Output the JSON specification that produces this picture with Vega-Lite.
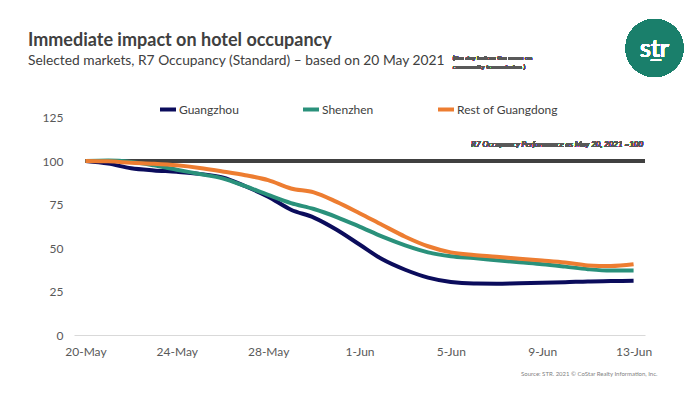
{
  "$schema": "https://vega.github.io/schema/vega-lite/v6.json",
  "width": 571,
  "height": 217.5,
  "autosize": {"type": "none"},
  "padding": {"left": 74, "top": 117.5, "right": 55, "bottom": 59},
  "background": "white",
  "config": {"view": {"stroke": null}, "font": "Lato"},
  "title": {
    "text": "Immediate impact on hotel occupancy",
    "subtitle": "Selected markets, R7 Occupancy (Standard) – based on 20 May 2021",
    "anchor": "start",
    "frame": "group",
    "dx": -46,
    "offset": -49,
    "font": "Lato",
    "fontSize": 18,
    "fontWeight": "bold",
    "color": "#404040",
    "subtitleFont": "Lato",
    "subtitleFontSize": 13.8,
    "subtitleColor": "#404040",
    "subtitlePadding": 4
  },
  "data": {
    "values": [
      {"date": "2021-05-20T00:00:00", "market": "Guangzhou", "value": 100},
      {"date": "2021-05-21T00:00:00", "market": "Guangzhou", "value": 98.5},
      {"date": "2021-05-22T00:00:00", "market": "Guangzhou", "value": 95.8},
      {"date": "2021-05-23T00:00:00", "market": "Guangzhou", "value": 94.6},
      {"date": "2021-05-24T00:00:00", "market": "Guangzhou", "value": 93.8},
      {"date": "2021-05-25T00:00:00", "market": "Guangzhou", "value": 92.6},
      {"date": "2021-05-26T00:00:00", "market": "Guangzhou", "value": 90.5},
      {"date": "2021-05-27T00:00:00", "market": "Guangzhou", "value": 85.5},
      {"date": "2021-05-28T00:00:00", "market": "Guangzhou", "value": 79.5},
      {"date": "2021-05-29T00:00:00", "market": "Guangzhou", "value": 72},
      {"date": "2021-05-30T00:00:00", "market": "Guangzhou", "value": 67.5},
      {"date": "2021-05-31T00:00:00", "market": "Guangzhou", "value": 60.5},
      {"date": "2021-06-01T00:00:00", "market": "Guangzhou", "value": 52},
      {"date": "2021-06-02T00:00:00", "market": "Guangzhou", "value": 43.5},
      {"date": "2021-06-03T00:00:00", "market": "Guangzhou", "value": 37.5},
      {"date": "2021-06-04T00:00:00", "market": "Guangzhou", "value": 33},
      {"date": "2021-06-05T00:00:00", "market": "Guangzhou", "value": 30.5},
      {"date": "2021-06-06T00:00:00", "market": "Guangzhou", "value": 29.6},
      {"date": "2021-06-07T00:00:00", "market": "Guangzhou", "value": 29.5},
      {"date": "2021-06-08T00:00:00", "market": "Guangzhou", "value": 29.8},
      {"date": "2021-06-09T00:00:00", "market": "Guangzhou", "value": 30},
      {"date": "2021-06-10T00:00:00", "market": "Guangzhou", "value": 30.3},
      {"date": "2021-06-11T00:00:00", "market": "Guangzhou", "value": 30.8},
      {"date": "2021-06-12T00:00:00", "market": "Guangzhou", "value": 31},
      {"date": "2021-06-13T00:00:00", "market": "Guangzhou", "value": 31.2},
      {"date": "2021-05-20T00:00:00", "market": "Shenzhen", "value": 100},
      {"date": "2021-05-21T00:00:00", "market": "Shenzhen", "value": 100.3},
      {"date": "2021-05-22T00:00:00", "market": "Shenzhen", "value": 99.5},
      {"date": "2021-05-23T00:00:00", "market": "Shenzhen", "value": 97.5},
      {"date": "2021-05-24T00:00:00", "market": "Shenzhen", "value": 95},
      {"date": "2021-05-25T00:00:00", "market": "Shenzhen", "value": 92.5},
      {"date": "2021-05-26T00:00:00", "market": "Shenzhen", "value": 90},
      {"date": "2021-05-27T00:00:00", "market": "Shenzhen", "value": 85.5},
      {"date": "2021-05-28T00:00:00", "market": "Shenzhen", "value": 80.5},
      {"date": "2021-05-29T00:00:00", "market": "Shenzhen", "value": 75.8},
      {"date": "2021-05-30T00:00:00", "market": "Shenzhen", "value": 72.4},
      {"date": "2021-05-31T00:00:00", "market": "Shenzhen", "value": 67.8},
      {"date": "2021-06-01T00:00:00", "market": "Shenzhen", "value": 62.3},
      {"date": "2021-06-02T00:00:00", "market": "Shenzhen", "value": 56.5},
      {"date": "2021-06-03T00:00:00", "market": "Shenzhen", "value": 51.5},
      {"date": "2021-06-04T00:00:00", "market": "Shenzhen", "value": 47.5},
      {"date": "2021-06-05T00:00:00", "market": "Shenzhen", "value": 45.3},
      {"date": "2021-06-06T00:00:00", "market": "Shenzhen", "value": 44.2},
      {"date": "2021-06-07T00:00:00", "market": "Shenzhen", "value": 43},
      {"date": "2021-06-08T00:00:00", "market": "Shenzhen", "value": 41.8},
      {"date": "2021-06-09T00:00:00", "market": "Shenzhen", "value": 40.7},
      {"date": "2021-06-10T00:00:00", "market": "Shenzhen", "value": 39.3},
      {"date": "2021-06-11T00:00:00", "market": "Shenzhen", "value": 37.8},
      {"date": "2021-06-12T00:00:00", "market": "Shenzhen", "value": 37},
      {"date": "2021-06-13T00:00:00", "market": "Shenzhen", "value": 37},
      {"date": "2021-05-20T00:00:00", "market": "Rest of Guangdong", "value": 100},
      {"date": "2021-05-21T00:00:00", "market": "Rest of Guangdong", "value": 99.8},
      {"date": "2021-05-22T00:00:00", "market": "Rest of Guangdong", "value": 99},
      {"date": "2021-05-23T00:00:00", "market": "Rest of Guangdong", "value": 98.4},
      {"date": "2021-05-24T00:00:00", "market": "Rest of Guangdong", "value": 97.5},
      {"date": "2021-05-25T00:00:00", "market": "Rest of Guangdong", "value": 96},
      {"date": "2021-05-26T00:00:00", "market": "Rest of Guangdong", "value": 94},
      {"date": "2021-05-27T00:00:00", "market": "Rest of Guangdong", "value": 91.8},
      {"date": "2021-05-28T00:00:00", "market": "Rest of Guangdong", "value": 89},
      {"date": "2021-05-29T00:00:00", "market": "Rest of Guangdong", "value": 84.2},
      {"date": "2021-05-30T00:00:00", "market": "Rest of Guangdong", "value": 82},
      {"date": "2021-05-31T00:00:00", "market": "Rest of Guangdong", "value": 76.5},
      {"date": "2021-06-01T00:00:00", "market": "Rest of Guangdong", "value": 70},
      {"date": "2021-06-02T00:00:00", "market": "Rest of Guangdong", "value": 63.2},
      {"date": "2021-06-03T00:00:00", "market": "Rest of Guangdong", "value": 56.5},
      {"date": "2021-06-04T00:00:00", "market": "Rest of Guangdong", "value": 51},
      {"date": "2021-06-05T00:00:00", "market": "Rest of Guangdong", "value": 47.5},
      {"date": "2021-06-06T00:00:00", "market": "Rest of Guangdong", "value": 46},
      {"date": "2021-06-07T00:00:00", "market": "Rest of Guangdong", "value": 45},
      {"date": "2021-06-08T00:00:00", "market": "Rest of Guangdong", "value": 43.8},
      {"date": "2021-06-09T00:00:00", "market": "Rest of Guangdong", "value": 42.8},
      {"date": "2021-06-10T00:00:00", "market": "Rest of Guangdong", "value": 41.7},
      {"date": "2021-06-11T00:00:00", "market": "Rest of Guangdong", "value": 40},
      {"date": "2021-06-12T00:00:00", "market": "Rest of Guangdong", "value": 39.6},
      {"date": "2021-06-13T00:00:00", "market": "Rest of Guangdong", "value": 40.6}
    ]
  },
  "layer": [
    {
      "mark": {"type": "rule", "color": "#404040", "strokeWidth": 2.5},
      "encoding": {
        "x": {"datum": {"year": 2021, "month": 5, "date": 20}, "type": "temporal", "scale": {"domain": [{"year": 2021, "month": 5, "date": 19, "hours": 12}, {"year": 2021, "month": 6, "date": 13, "hours": 12}], "nice": false}},
        "x2": {"datum": {"year": 2021, "month": 6, "date": 13, "hours": 12}},
        "y": {"datum": 100, "type": "quantitative", "scale": {"domain": [0, 125], "nice": false}}
      }
    },
    {
      "mark": {"type": "line", "strokeWidth": 4, "interpolate": "monotone", "clip": false},
      "encoding": {
        "x": {
          "field": "date",
          "type": "temporal",
          "scale": {"domain": [{"year": 2021, "month": 5, "date": 19, "hours": 12}, {"year": 2021, "month": 6, "date": 13, "hours": 12}], "nice": false},
          "axis": {
            "values": [
              {"year": 2021, "month": 5, "date": 20},
              {"year": 2021, "month": 5, "date": 24},
              {"year": 2021, "month": 5, "date": 28},
              {"year": 2021, "month": 6, "date": 1},
              {"year": 2021, "month": 6, "date": 5},
              {"year": 2021, "month": 6, "date": 9},
              {"year": 2021, "month": 6, "date": 13}
            ],
            "format": "%-d-%b",
            "labelFont": "Lato",
            "labelFontSize": 12,
            "labelColor": "#595959",
            "labelPadding": 11,
            "labelFlush": false,
            "ticks": false,
            "grid": false,
            "domainColor": "#d9d9d9",
            "domainWidth": 1,
            "title": "Source: STR. 2021 © CoStar Realty Information, Inc.",
            "titleFont": "Lato",
            "titleFontSize": 6,
            "titleFontWeight": "normal",
            "titleColor": "#7f7f7f",
            "titleAlign": "right",
            "titleAnchor": "end",
            "titleX": 583,
            "titleY": 38,
            "titleBaseline": "middle"
          }
        },
        "y": {
          "field": "value",
          "type": "quantitative",
          "scale": {"domain": [0, 125], "nice": false},
          "axis": {
            "values": [0, 25, 50, 75, 100, 125],
            "title": null,
            "grid": false,
            "domain": false,
            "ticks": false,
            "labelPadding": 11,
            "labelFont": "Lato",
            "labelFontSize": 12,
            "labelColor": "#595959"
          }
        },
        "color": {
          "field": "market",
          "type": "nominal",
          "sort": ["Guangzhou", "Shenzhen", "Rest of Guangdong"],
          "scale": {"domain": ["Guangzhou", "Shenzhen", "Rest of Guangdong"], "range": ["#0b0c5c", "#2a917b", "#ed7d31"]},
          "legend": {
            "orient": "none",
            "legendX": 84,
            "legendY": -18,
            "direction": "horizontal",
            "title": null,
            "symbolType": "stroke",
            "symbolStrokeWidth": 4,
            "symbolSize": 256,
            "labelFont": "Lato",
            "labelFontSize": 12,
            "labelColor": "#404040",
            "labelOffset": 1,
            "columnPadding": 56
          }
        }
      }
    },
    {
      "mark": {"type": "text", "align": "right", "baseline": "middle", "fontStyle": "italic", "fontSize": 8, "font": "Lato", "color": "#595959", "clip": false},
      "encoding": {
        "x": {"datum": {"year": 2021, "month": 6, "date": 13, "hours": 10}, "type": "temporal", "scale": {"domain": [{"year": 2021, "month": 5, "date": 19, "hours": 12}, {"year": 2021, "month": 6, "date": 13, "hours": 12}], "nice": false}},
        "y": {"datum": 109, "type": "quantitative", "scale": {"domain": [0, 125], "nice": false}},
        "text": {"value": "R7 Occupancy Performance as May 20, 2021 =100"}
      }
    },
    {
      "mark": {"type": "text", "align": "left", "baseline": "middle", "fontSize": 6.5, "font": "Lato", "color": "#595959", "lineHeight": 9, "clip": false},
      "encoding": {
        "x": {"datum": {"year": 2021, "month": 6, "date": 5, "hours": 2}, "type": "temporal", "scale": {"domain": [{"year": 2021, "month": 5, "date": 19, "hours": 12}, {"year": 2021, "month": 6, "date": 13, "hours": 12}], "nice": false}},
        "y": {"datum": 159.2, "type": "quantitative", "scale": {"domain": [0, 125], "nice": false}},
        "text": {"value": ["(the day before the news on", "community transmission )"]}
      }
    },
    {
      "mark": {"type": "point", "shape": "circle", "filled": true, "size": 3364, "color": "#1a7f6b", "opacity": 1, "clip": false},
      "encoding": {
        "x": {"datum": {"year": 2021, "month": 6, "date": 13, "hours": 22}, "type": "temporal", "scale": {"domain": [{"year": 2021, "month": 5, "date": 19, "hours": 12}, {"year": 2021, "month": 6, "date": 13, "hours": 12}], "nice": false}},
        "y": {"datum": 164.9, "type": "quantitative", "scale": {"domain": [0, 125], "nice": false}}
      }
    },
    {
      "mark": {"type": "text", "align": "center", "baseline": "alphabetic", "fontSize": 25, "font": "Lato", "color": "white", "clip": false},
      "encoding": {
        "x": {"datum": {"year": 2021, "month": 6, "date": 13, "hours": 22}, "type": "temporal", "scale": {"domain": [{"year": 2021, "month": 5, "date": 19, "hours": 12}, {"year": 2021, "month": 6, "date": 13, "hours": 12}], "nice": false}},
        "y": {"datum": 159.8, "type": "quantitative", "scale": {"domain": [0, 125], "nice": false}},
        "text": {"value": "s̲tr"}
      }
    }
  ]
}
